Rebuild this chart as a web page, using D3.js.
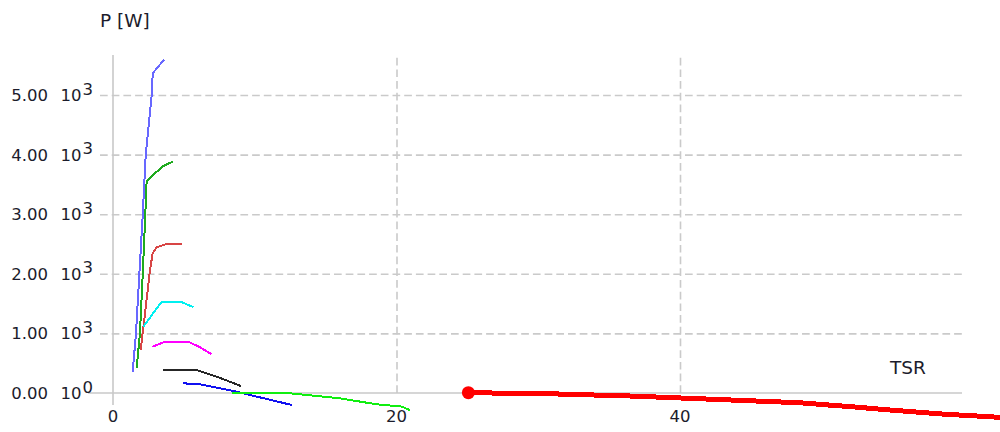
<!DOCTYPE html>
<html>
<head>
<meta charset="utf-8">
<script src="https://cdn.jsdelivr.net/npm/d3@7"></script>
<style>
  html, body { margin: 0; padding: 0; background: #fff; }
  svg { display: block; }
  text { font-family: "DejaVu Sans", Verdana, sans-serif; fill: #1c1c2c; }
</style>
</head>
<body>
<svg id="chart" width="1000" height="432"></svg>
<script>
// Power curves P [W] versus tip speed ratio (TSR), one per wind speed
const curveA_tsr = [1.39, 1.62, 1.86, 2.10, 2.31, 2.73, 2.80, 3.08, 3.39, 3.62];
const curveA_p   = [350, 1000, 2000, 3000, 4000, 5000, 5360, 5447, 5532, 5590];

const curveB_tsr = [1.67, 1.90, 2.10, 2.28, 2.37, 2.96, 3.55, 4.21];
const curveB_p   = [414, 1000, 2000, 3000, 3545, 3686, 3809, 3881];

const curveC_tsr = [1.95, 2.09, 2.26, 2.61, 2.80, 3.08, 3.79, 4.85];
const curveC_p   = [721, 1000, 1337, 2064, 2344, 2445, 2500, 2500];

const curveD_tsr = [2.14, 3.43, 4.80, 5.67];
const curveD_p   = [1113, 1530, 1530, 1440];

const curveE_tsr = [2.78, 3.55, 5.41, 6.14, 6.96];
const curveE_p   = [777, 850, 850, 767, 650];

const curveF_tsr = [3.55, 5.90, 7.32, 9.03];
const curveF_p   = [386, 386, 274, 117];

const curveG_tsr = [4.92, 6.14, 8.49, 9.67, 12.61];
const curveG_p   = [163, 146, 34, -34, -201];

const curveH_tsr = [8.37, 12.50, 16.00, 18.60, 20.40, 20.96];
const curveH_p   = [5, -6, -89, -190, -229, -290];

// operating curve (thick) with its start marker
const curveI_tsr = [25.07, 30.84, 36.70, 40.58, 44.46, 48.48, 50.46, 52.51, 54.34, 56.38, 58.36, 62.70];
const curveI_p   = [5, -13, -52, -89, -126, -164, -201, -238, -277, -314, -351, -410];

// axis ticks and labels
const xTicks = [0, 20, 40];
const xTickLabels = ["0", "20", "40"];
const yTicks = [0, 1000, 2000, 3000, 4000, 5000];
const yTickMantissa = ["0.00", "1.00", "2.00", "3.00", "4.00", "5.00"];
const yTickExponent = ["0", "3", "3", "3", "3", "3"];

const svg = d3.select("#chart");

const x = d3.scaleLinear().domain([0, 40]).range([113, 680]);
const y = d3.scaleLinear().domain([0, 5000]).range([393, 95]);

const gridRight = 962, gridLeft = 100, plotTop = 55;

// horizontal dashed grid
const yGrid = d3.axisLeft(y)
  .tickValues(yTicks.filter(v => v !== 0))
  .tickSize(-(gridRight - gridLeft))
  .tickFormat("");
svg.append("g")
  .attr("transform", `translate(${gridLeft},0)`)
  .call(yGrid)
  .call(g => g.select(".domain").remove())
  .call(g => g.selectAll(".tick line")
    .attr("stroke", "#cacaca").attr("stroke-width", 1.6)
    .attr("stroke-dasharray", "7.7,4"));

// vertical dashed grid
const xGrid = d3.axisBottom(x)
  .tickValues(xTicks.filter(v => v !== 0))
  .tickSize(-(y(0) - plotTop))
  .tickFormat("");
svg.append("g")
  .attr("transform", `translate(0,${y(0)})`)
  .call(xGrid)
  .call(g => g.select(".domain").remove())
  .call(g => g.selectAll(".tick line")
    .attr("stroke", "#cacaca").attr("stroke-width", 1.6)
    .attr("stroke-dasharray", "7.7,4"));

// solid axis lines through the origin
svg.append("line")
  .attr("x1", 88).attr("x2", gridRight)
  .attr("y1", y(0)).attr("y2", y(0))
  .attr("stroke", "#c8c8c8").attr("stroke-width", 1.6);
svg.append("line")
  .attr("x1", x(0)).attr("x2", x(0))
  .attr("y1", plotTop).attr("y2", y(0) + 12)
  .attr("stroke", "#c8c8c8").attr("stroke-width", 1.6);

// y tick labels: mantissa, "10", exponent
const yLab = svg.append("g").selectAll("g")
  .data(yTicks)
  .join("g")
  .attr("transform", d => `translate(0,${y(d)})`);
yLab.append("text")
  .attr("x", 48).attr("y", 6)
  .attr("text-anchor", "end")
  .style("font-size", "16.5px")
  .text((d, i) => yTickMantissa[i]);
yLab.append("text")
  .attr("x", 60.5).attr("y", 6)
  .style("font-size", "16.5px")
  .text("10");
yLab.append("text")
  .attr("x", 82.5).attr("y", -0.5)
  .style("font-size", "16.5px")
  .text((d, i) => yTickExponent[i]);

// x tick labels
svg.append("g").selectAll("text")
  .data(xTicks)
  .join("text")
  .attr("x", d => x(d))
  .attr("y", 421.5)
  .attr("text-anchor", "middle")
  .style("font-size", "16.5px")
  .text((d, i) => xTickLabels[i]);

// axis titles
svg.append("text")
  .attr("x", 100).attr("y", 26.5)
  .style("font-size", "18.5px")
  .text("P [W]");
svg.append("text")
  .attr("x", 890).attr("y", 373.5)
  .style("font-size", "18.5px")
  .text("TSR");

// curves
const line = d3.line().x(d => x(d[0])).y(d => y(d[1]));
const curves = [
  { t: curveA_tsr, p: curveA_p, color: "#6868ff", w: 2 },
  { t: curveB_tsr, p: curveB_p, color: "#1faa1f", w: 2 },
  { t: curveC_tsr, p: curveC_p, color: "#d84545", w: 2 },
  { t: curveD_tsr, p: curveD_p, color: "#00f0f0", w: 2 },
  { t: curveE_tsr, p: curveE_p, color: "#ff00ff", w: 2 },
  { t: curveF_tsr, p: curveF_p, color: "#262626", w: 2 },
  { t: curveG_tsr, p: curveG_p, color: "#1010f0", w: 2 },
  { t: curveH_tsr, p: curveH_p, color: "#10ee10", w: 2 },
  { t: curveI_tsr, p: curveI_p, color: "#ff0000", w: 5 }
];
svg.append("g").selectAll("path")
  .data(curves)
  .join("path")
  .attr("d", c => line(c.t.map((v, i) => [v, c.p[i]])))
  .attr("fill", "none")
  .attr("stroke", c => c.color)
  .attr("stroke-width", c => c.w)
  .attr("shape-rendering", "crispEdges");

// start marker of the operating curve
svg.append("circle")
  .attr("cx", x(curveI_tsr[0]))
  .attr("cy", y(curveI_p[0]))
  .attr("r", 6.5)
  .attr("fill", "#ff0000");
</script>
</body>
</html>
